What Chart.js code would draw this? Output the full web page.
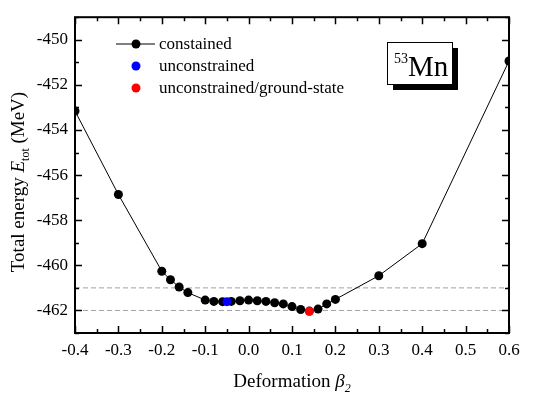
<!DOCTYPE html>
<html>
<head>
<meta charset="utf-8">
<script src="https://cdn.jsdelivr.net/npm/chart.js@4"></script>
<style>
  html, body { margin: 0; padding: 0; background: #fff; }
  #wrap { width: 533px; height: 398px; position: relative; }
</style>
</head>
<body>
<div id="wrap"><canvas id="myChart"></canvas></div>
<script>
// constrained calculation (black line + dots)
const betaValues = [-0.4, -0.3, -0.2, -0.18, -0.16, -0.14, -0.1, -0.08, -0.06, -0.04, -0.02, 0.0,
    0.02, 0.04, 0.06, 0.08, 0.1, 0.12, 0.14, 0.16, 0.18, 0.2, 0.3, 0.4, 0.6];
const energyValues = [-453.16, -456.86, -460.26, -460.64, -460.96, -461.21, -461.54, -461.60, -461.61, -461.60, -461.57, -461.54,
    -461.57, -461.60, -461.66, -461.71, -461.83, -461.96, -462.03, -461.94, -461.71, -461.51, -460.46, -459.04, -450.94];

const unconstrainedBeta = [-0.05];
const unconstrainedEnergy = [-461.61];
const groundBeta = [0.14];
const groundEnergy = [-462.04];

const refEnergies = [-461, -462];   // grey dashed guides

const xTickValues = [-0.4, -0.3, -0.2, -0.1, 0.0, 0.1, 0.2, 0.3, 0.4, 0.5, 0.6];
const yTickValues = [-462, -460, -458, -456, -454, -452, -450];
const xRange = [-0.4, 0.6];
const yRange = [-463, -449];

const legendLabels = ['constained', 'unconstrained', 'unconstrained/ground-state'];

const serif = "'Liberation Serif', 'Times New Roman', serif";

const toPoints = (xs, ys) => xs.map((x, i) => ({ x: x, y: ys[i] }));

const refDatasets = refEnergies.map(e => ({
    label: 'ref',
    data: toPoints(xRange, [e, e]),
    borderColor: '#a0a0a0',
    borderWidth: 1,
    borderDash: [5, 3],
    pointRadius: 0,
    showLine: true,
    order: 5
}));

// frame, inward ticks, legend, labels with sub/superscripts
const decorPlugin = {
    id: 'decor',
    afterDraw(chart) {
        const ctx = chart.ctx;
        const a = chart.chartArea;
        const xs = chart.scales.x, ys = chart.scales.y;
        ctx.save();
        ctx.strokeStyle = '#000';
        ctx.lineWidth = 1.5;
        ctx.beginPath();
        for (let k = 0; k <= 20; k++) {
            const v = xRange[0] + k * 0.05;
            const px = Math.round(xs.getPixelForValue(v)) + 0.5;
            const len = k % 2 === 0 ? 7 : 4;
            ctx.moveTo(px, a.bottom); ctx.lineTo(px, a.bottom - len);
            ctx.moveTo(px, a.top); ctx.lineTo(px, a.top + len);
        }
        for (let v = yRange[0]; v <= yRange[1]; v++) {
            const py = Math.round(ys.getPixelForValue(v)) + 0.5;
            const len = v % 2 === 0 ? 7 : 4;
            ctx.moveTo(a.left, py); ctx.lineTo(a.left + len, py);
            ctx.moveTo(a.right, py); ctx.lineTo(a.right - len, py);
        }
        ctx.stroke();
        ctx.lineWidth = 2;
        ctx.strokeRect(a.left, a.top, a.right - a.left, a.bottom - a.top);

        // legend
        const colors = ['#000', '#0000ff', '#ff0000'];
        ctx.font = '17px ' + serif;
        ctx.textBaseline = 'middle';
        ctx.textAlign = 'left';
        legendLabels.forEach((t, i) => {
            const y = 44 + i * 22;
            if (i === 0) {
                ctx.lineWidth = 1;
                ctx.beginPath(); ctx.moveTo(116, y); ctx.lineTo(155, y); ctx.stroke();
            }
            ctx.fillStyle = colors[i];
            ctx.beginPath(); ctx.arc(136, y, 4.5, 0, Math.PI * 2); ctx.fill();
            ctx.fillStyle = '#000';
            ctx.fillText(t, 159, y + 1);
        });

        // nucleus box with shadow
        ctx.fillStyle = '#000';
        ctx.fillRect(393, 48, 65, 42);
        ctx.fillStyle = '#fff';
        ctx.fillRect(387, 42, 65, 42);
        ctx.lineWidth = 1;
        ctx.strokeRect(387.5, 42.5, 65, 42);
        ctx.fillStyle = '#000';
        ctx.textBaseline = 'alphabetic';
        ctx.font = '14px ' + serif;
        ctx.fillText('53', 394, 63);
        const w53 = ctx.measureText('53').width;
        ctx.font = '29px ' + serif;
        ctx.fillText('Mn', 394 + w53, 76);

        // x title: Deformation β2
        const xParts = [
            { t: 'Deformation ', f: '19px ' + serif, dy: 0 },
            { t: 'β', f: 'italic 19px ' + serif, dy: 0 },
            { t: '2', f: 'italic 12px ' + serif, dy: 5 }
        ];
        drawParts(ctx, xParts, (a.left + a.right) / 2, 387, 0);

        // y title: Total energy E_tot (MeV)
        const yParts = [
            { t: 'Total energy ', f: '19px ' + serif, dy: 0 },
            { t: 'E', f: 'italic 19px ' + serif, dy: 0 },
            { t: 'tot', f: '12px ' + serif, dy: 5 },
            { t: ' (MeV)', f: '19px ' + serif, dy: 0 }
        ];
        drawParts(ctx, yParts, 24, 182, -Math.PI / 2);
        ctx.restore();
    }
};

function drawParts(ctx, parts, cx, cy, rot) {
    ctx.save();
    ctx.translate(cx, cy);
    ctx.rotate(rot);
    ctx.textBaseline = 'alphabetic';
    ctx.textAlign = 'left';
    let total = 0;
    parts.forEach(p => { ctx.font = p.f; p.w = ctx.measureText(p.t).width; total += p.w; });
    let x = -total / 2;
    ctx.fillStyle = '#000';
    parts.forEach(p => { ctx.font = p.f; ctx.fillText(p.t, x, p.dy); x += p.w; });
    ctx.restore();
}

const config = {
    type: 'scatter',
    data: {
        datasets: [
            ...refDatasets,
            {
                label: legendLabels[0],
                data: toPoints(betaValues, energyValues),
                showLine: true,
                borderColor: '#000',
                borderWidth: 1,
                backgroundColor: '#000',
                pointRadius: 4.5,
                pointBorderWidth: 0,
                clip: 0,
                order: 3
            },
            {
                label: legendLabels[1],
                data: toPoints(unconstrainedBeta, unconstrainedEnergy),
                backgroundColor: '#0000ff',
                pointRadius: 4.5,
                pointBorderWidth: 0,
                order: 2
            },
            {
                label: legendLabels[2],
                data: toPoints(groundBeta, groundEnergy),
                backgroundColor: '#ff0000',
                pointRadius: 4.5,
                pointBorderWidth: 0,
                order: 1
            }
        ]
    },
    options: {
        responsive: true,
        maintainAspectRatio: false,
        animation: false,
        layout: { padding: { left: 0, right: 24, top: 8, bottom: 0 } },
        plugins: {
            legend: { display: false },
            tooltip: { enabled: false }
        },
        scales: {
            x: {
                type: 'linear',
                min: xRange[0],
                max: xRange[1],
                afterBuildTicks: s => { s.ticks = xTickValues.map(v => ({ value: v })); },
                afterFit: s => { s.height = 65; },
                grid: { display: false, drawTicks: false },
                border: { display: false },
                ticks: {
                    padding: 7,
                    color: '#000',
                    font: { family: serif, size: 17 },
                    maxRotation: 0,
                    callback: v => v.toFixed(1)
                }
            },
            y: {
                type: 'linear',
                min: yRange[0],
                max: yRange[1],
                afterBuildTicks: s => { s.ticks = yTickValues.map(v => ({ value: v })); },
                afterFit: s => { s.width = 75; },
                grid: { display: false, drawTicks: false },
                border: { display: false },
                ticks: {
                    padding: 7,
                    color: '#000',
                    font: { family: serif, size: 17 },
                    callback: v => String(v)
                }
            }
        }
    },
    plugins: [decorPlugin]
};

const myChart = new Chart(document.getElementById('myChart').getContext('2d'), config);
</script>
</body>
</html>
